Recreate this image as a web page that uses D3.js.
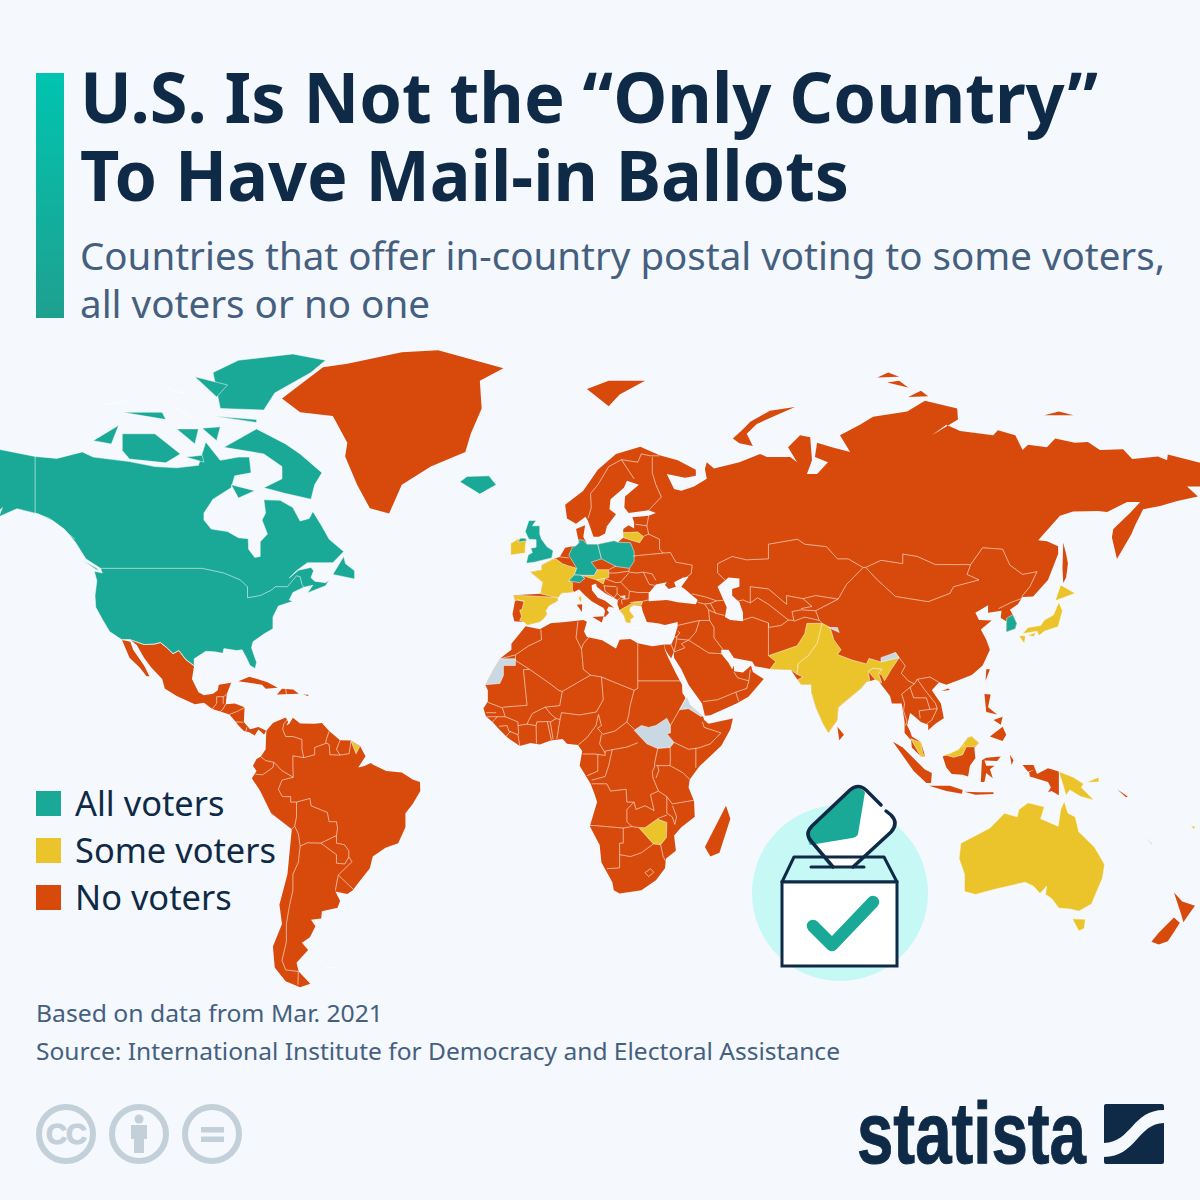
<!DOCTYPE html>
<html>
<head>
<meta charset="utf-8">
<title>Mail-in ballots</title>
<script src="https://cdnjs.cloudflare.com/ajax/libs/d3/7.8.5/d3.min.js"></script>
<style>
  html, body { margin: 0; padding: 0; background: #f5f8fc; }
  svg { display: block; }
</style>
</head>
<body>
<svg id="chart" width="1200" height="1200"></svg>
<script>
// legend
var categories = ["All voters", "Some voters", "No voters"];

// every shape below is [name, ring, ring...], a ring is "lon,lat lon,lat ..."
var allVoters = [
  ["Canada and USA",
   "-168,65.5 -166,68.3 -156.5,71.3 -141,69.6 -135,69.3 -128,70.3 -125,69.5 -115,68.8 -108,68 -102,67.8 -96,68.2 -94,71.8 -90,69 -85,69.5 -82,69.5 -81.5,67 -86,66.5 -87,64.5 -92,62.5 -94.5,60 -94.5,58.7 -92.5,57 -88,56.5 -85,55.3 -82.3,55.1 -82.2,53 -80.5,51.3 -79,51.5 -79,54.5 -77,56 -78.5,58.7 -77.5,60 -78,62.4 -73.5,62.3 -70,61 -68,58.5 -65.5,59 -64.5,60.3 -62,57.5 -60,55 -56,52.5 -59,50.2 -66,50.2 -69,48.5 -71,46.9 -68.5,48.6 -65,49.2 -64.3,48.5 -65,47 -64,46.2 -61,45.9 -60,46.5 -61,45.2 -66,43.6 -64.5,45.3 -67,44.9 -70,43.7 -71,42 -70,41.7 -74,40.6 -75.5,38 -75.5,35.2 -78,33.9 -81,32 -81.4,30.5 -80,26.8 -80.4,25.2 -81.8,26 -82.8,28 -84,30 -85.5,29.8 -89,30.3 -89.3,29.1 -91.5,29.5 -94,29.6 -97.2,27.7 -97.2,25.9 -99.5,27.5 -101.4,29.8 -103,29 -104.7,30.5 -106.5,31.8 -108.2,31.4 -111,31.3 -114.8,32.5 -117.1,32.5 -120.5,34.5 -122.5,37.5 -124.3,40.3 -124.5,43 -124,46.3 -124.7,48.4 -122.5,48 -123,49 -127,51 -130,54.5 -133,57 -136,58.5 -140,59.8 -146,60.8 -151,59.3 -150,61 -154,58.5 -158,56.5 -164,54.7 -160,58.7 -165,60.5 -161,64 -166,64.5"],
  ["Baffin", "-80,73.7 -72,71.5 -68,70 -62,67 -64,65 -65,62.5 -72,63.5 -78,64.5 -73,66 -73,68 -78,70 -89,71 -89,73.5"],
  ["Victoria", "-117,73 -108,73 -101,70 -105,68.6 -115,69.2 -117,70.5 -119,71.5"],
  ["Banks", "-125,72 -120,71.5 -118,74.2 -124,74.3"],
  ["Ellesmere", "-90,76.5 -78,76.3 -75,78.5 -65,81 -61,82.4 -70,83.1 -85,82.4 -92,81 -87,79"],
  ["Devon", "-92,75.5 -80,75 -80,74.6 -92,74.6"],
  ["Axel Heiberg", "-97,80.5 -88,79.5 -91,78 -95,79"],
  ["Melville", "-117,76 -106,76 -105,75 -117,74.5"],
  ["Bathurst", "-102,76.5 -97,75 -101,75"],
  ["Somerset", "-95,73.8 -90,74 -91,72 -95,72"],
  ["Prince of Wales", "-102,73.7 -96,73.7 -97,71.5 -101,71.5"],
  ["King William", "-99.5,69.5 -95,69.8 -94.5,68.7 -98,68.5"],
  ["Southampton", "-87,65 -80.5,64 -85,62.7 -87,64"],
  ["Coats", "-83,62.9 -80.5,62.9 -82,62.2"],
  ["Ringnes", "-105,79 -100,78.5 -104,78"],
  ["Prince Patrick", "-122,77 -116,77.5 -115,76.3"],
  ["Newfoundland", "-59,47.7 -56,51.5 -55.5,50 -53,48.5 -53,46.7 -56,46.9"],
  ["Vancouver Island", "-128,50.7 -124,49 -123.5,48.4 -125.5,49"],
  ["Iceland", "-24,65.5 -22,66.4 -16,66.5 -14,65 -18.5,63.4 -22.5,63.9"],
  ["United Kingdom", "-5.7,50.1 -3.5,50.3 1.3,51.2 1.7,52.7 0,53.5 -1.5,55 -2,56 -2,57.6 -4,57.6 -3,58.6 -5,58.6 -6,56.5 -5,55 -3,54.9 -3,53.4 -4.5,53.2 -4,52.3 -5.2,51.8 -3,51.4"],
  ["Northern Ireland", "-5.5,54.7 -6,55.2 -7.3,55.2 -8,54.4 -6.3,54.1"],
  ["Germany", "6,51.8 7,53.4 8,53.7 8.8,54.3 8.7,54.9 10,54.8 11,54 14,54 14.7,52 15,51 12.2,50.3 13.8,48.7 13,47.5 9.5,47.5 7.5,47.6 8.2,49 6,49.5"],
  ["Poland", "14,54 18.5,54.7 19.5,54.4 23,54.3 24,52.5 24,50.5 22.7,49 19,49.4 15,51 14.7,52"],
  ["Switzerland", "6,46.3 7.5,47.6 9.5,47.5 10.4,46.8 9,45.9 7,45.9"],
  ["South Korea", "126.6,37.7 128.3,38.6 129.4,36.5 129,35.2 126.5,34.4 126.5,37"]
];

var someVoters = [
  ["French Guiana", "-54,5.8 -51.6,4.3 -52.6,2.3 -54.5,2.3"],
  ["Ireland", "-6,52.2 -6,53.5 -5.7,54.6 -6,55.2 -7.3,55.3 -10,54.2 -10,51.8 -8.5,51.6"],
  ["France", "-1.8,43.4 -1.2,46 -4.6,48.2 -1.5,48.7 -1.5,49.7 1.5,50.9 2.5,51 4.2,50 6,49.5 8.2,49 7.5,47.6 6,46.3 7,45.9 7,44.2 7.5,43.8 4,43.5 3,42.5 0.7,42.7"],
  ["Corsica", "8.6,42.5 9.4,43 9.5,42 9.2,41.4 8.7,41.8"],
  ["Spain", "-9.3,43.1 -8.8,41.8 -8.2,42 -6.3,41.7 -6.9,39.8 -7.5,39.6 -7,38.2 -7.5,37.2 -6.3,36.8 -5.4,36.1 -2,36.8 -0.8,37.7 0,38.7 -0.3,39.5 0.5,40.6 3,41.8 3,42.5 0.7,42.7 -1.8,43.4"],
  ["Balearics", "2.4,39.6 3.3,39.9 3.2,39.3"],
  ["Austria", "9.5,47.5 13,47.5 13.8,48.7 17,48.7 17,47 16,46.8 13.7,46.5 10.4,46.8"],
  ["Slovenia", "13.7,46.5 16,46.8 15.5,45.6 13.6,45.5"],
  ["Lithuania", "21,55.3 21,56.3 25,56.4 26.6,55.5 25.5,54.3 23.5,54"],
  ["Greece", "20,39.6 21.2,38.3 21.7,36.8 23,36.5 23,37.5 24,38 22.7,39.5 23,40.4 24,40.8 26,40.8 26.3,41.6 24,41.5 21,40.9"],
  ["Crete", "23.6,35.5 26.3,35.2 24.8,34.9"],
  ["Zimbabwe", "25.3,-17.9 27,-17.9 30.4,-15.6 33,-16.5 32.9,-20.5 31.3,-22.4 29.3,-22.2 27,-20.5"],
  ["Pakistan", "61,28.5 63,27 61.4,25 67.2,24.8 68.9,23.7 69.2,26.5 72,28.5 74.4,31.6 75.5,34 75.8,36.5 71.6,36.5 71,34 68.9,31 66,29"],
  ["India", "75.8,36.5 78,35.5 79,32.5 81,30 80,28.8 84,27.4 88,26.4 88.7,27.8 92,26.9 96,29.3 97,28 94.5,24.5 93,22 92.2,23.5 91.3,24 92.3,25 89.8,25.3 88.5,24.5 88.9,22 88,21.7 86.5,20 80.3,15 80,11.5 77.5,8 76,10.5 74,15 72.8,19 72.7,21 70,21 69,22.3 70.5,23 68.9,23.7 69.2,26.5 72,28.5 74.4,31.6 75.5,34"],
  ["Bangladesh", "88.5,24.5 89.8,25.3 92.3,25 91.3,24 92.2,21.5 90.5,22.2 88.9,22"],
  ["Peninsular Malaysia", "100.2,6.4 101.8,5.8 103,5.5 103.5,2.5 104.2,1.4 103,1.5 100.5,4"],
  ["East Malaysia", "109.6,2 111.3,2.5 113.5,3.5 116,6.8 117,7 119,5.2 117.6,4.2 115.5,4.2 114.5,2 112,1.3 109.6,1.2"],
  ["Hokkaido", "140,41.8 141.5,45.4 145.5,43.5 143,42"],
  ["Honshu", "141,41.5 142,39.5 140.8,35.7 137,34.6 135.5,33.5 135,34.6 131,34 132.5,35.5 136,36 137,37.3 139.5,38.5 140,40.5"],
  ["Shikoku", "132.3,33.5 134.5,34.3 134.3,33.3 133,32.8"],
  ["Kyushu", "130,33.5 131.8,33.5 131.5,31.5 130.3,31.3"],
  ["Papua New Guinea", "141,-2.6 145,-4.2 147.8,-6 147.2,-7 150.7,-10.5 147,-9.5 144,-7.7 143,-9.2 141,-9.1"],
  ["New Britain", "148.5,-5.6 152,-4.2 152,-5.5 149,-6.2"],
  ["Australia", "114,-22 113.5,-26 115,-30 115,-34.3 118,-35 124,-33.6 131.7,-32 134,-33 135.8,-34.8 137.6,-33 137.3,-35 139,-36 141,-38.3 144,-38.5 146.5,-39 150,-37.3 153,-31 153.6,-27.5 150.8,-23 146.5,-19 145.5,-15 143.5,-14 142.5,-10.8 141.5,-13 140.8,-17.5 136,-15.5 137,-12.3 132.5,-11.2 130,-13 129.5,-15 126,-14 122,-18 119,-20"],
  ["Tasmania", "144.7,-40.8 148.3,-40.9 148,-43 146.5,-43.6 145.3,-42.5"],
  ["Fiji", "177.3,-17.4 178.6,-17.6 178.2,-18.3 177.3,-18.1"]
];

var noVoters = [
  ["Greenland", "-73,77.8 -68,76 -59,75.5 -55,71.7 -55.6,69.6 -53.7,67 -52.3,65 -48.8,60.9 -43.5,59.9 -40,65 -32,68 -22.5,70.3 -21,73 -18,76.5 -18.5,80 -12,81.5 -30,83.5 -40,83.3 -55,82 -61.7,81.6 -66,80.4"],
  ["Baja California", "-117.1,32.5 -114.8,32 -114,30 -111,26 -109.5,23.2 -110.3,23.2 -112.2,25.5 -115,28 -116,30.5"],
  ["Mexico and Central America", "-114.8,32.5 -113,31.2 -111,28 -109,25.5 -106,22.5 -105.3,20 -102,18 -97,15.8 -94.5,16.2 -92.2,14.5 -90,13.8 -87.5,13 -85.7,11 -85,10 -83.5,8.5 -82,8.2 -80.5,7.3 -79.5,8.9 -77.9,7.5 -77.3,8.6 -79.5,9.6 -81.8,9 -83.5,11 -83.3,15 -86,16 -88.5,15.8 -88.2,18.5 -87,21.5 -90.4,21 -90.7,19.5 -92,18.6 -94.5,18.2 -96,19 -97.8,22.5 -97.2,25.9 -99.5,27.5 -101.4,29.8 -103,29 -104.7,30.5 -106.5,31.8 -108.2,31.4 -111,31.3"],
  ["Cuba", "-85,21.9 -82,23.1 -77,21.6 -74.2,20.2 -77.5,19.9 -78.5,21 -82,22.1"],
  ["Hispaniola", "-74.4,18.4 -73,19.9 -69.9,19.7 -68.4,18.6 -71.5,17.8"],
  ["Jamaica", "-78.3,18.4 -76.3,18.2 -77,17.8"],
  ["Puerto Rico", "-67.2,18.4 -65.7,18.3 -65.8,18 -67,18"],
  ["South America", "-77.3,8.6 -75.5,10.7 -72,12.2 -71.3,11 -71.8,10 -71,10.5 -70,12.1 -68,10.6 -64,10.5 -62,10.7 -60,8.5 -57,6 -54,5.9 -51.5,4.4 -50,1.6 -51,0 -52,-1.5 -50.5,-1.2 -48.5,-0.3 -48,-0.7 -44.3,-2.5 -40,-2.9 -37,-4.8 -35,-5.5 -34.9,-8 -37,-11.5 -39,-14 -39,-17.8 -41,-22 -44.5,-23.2 -48,-25.5 -48.8,-28.5 -52,-32.2 -53.5,-34 -55,-34.9 -58.3,-34.3 -57,-36.5 -57.7,-38.2 -62,-39 -62.2,-40.7 -65,-41 -63.8,-42.5 -65.3,-45 -67.5,-46.2 -65.8,-47.8 -69,-50.5 -68.4,-52.3 -65.2,-54.8 -68,-55.5 -72,-54.3 -75,-51.5 -75.5,-47 -73,-42 -73.7,-37.5 -71.5,-30 -70.3,-18.3 -76,-14 -79,-8 -81.3,-4.5 -80,-2.5 -81,-1 -80,0.8 -78.8,1.5 -77.5,3.5 -77.4,6.5 -77.9,7.3"],
  ["Africa", "-5.9,35.8 -2,35.1 1,36.5 5,36.8 10,37.3 11,36.9 10.2,34.5 11,33.2 15.2,32.4 19,30.3 20,32.5 23,32.7 25,31.6 29,30.9 32.3,31.3 32.5,29.9 33.5,27.8 35.5,24 37.2,21 37.3,18.8 39.5,15.5 43,12.5 43.3,11.5 44.5,10.5 51.2,11.9 50.5,9 48,4.5 42,-1.2 39.3,-4.8 39,-7 40.5,-10.7 40.7,-15 37,-17.8 35,-20 35.5,-24 32.8,-26 32.5,-28.5 30,-31.5 26,-34 20,-34.8 18.4,-34 18,-32 15,-27 14.5,-22.5 11.8,-17.5 13.8,-11 13,-8.5 12,-6 9,-1 9.7,3 8.5,4.7 5.5,5 4.3,6.3 1,5.9 -2,4.8 -4.5,5.2 -7.5,4.4 -11,6.8 -13.2,9 -15,11 -16.8,12.5 -17.5,14.7 -16.3,16.5 -16.3,19.5 -17,21 -14.7,25 -13,27.7 -9.8,30 -9.8,31.5 -6.8,34"],
  ["Madagascar", "49.3,-12 50.5,-15.5 47.5,-24.5 45,-25.5 43.5,-23 44.5,-16.3"],
  // Eurasia, second and third ring are the Black Sea and the Caspian
  ["Eurasia",
   "-9,37 -9.5,38.7 -8.8,41.8 -9.3,43.1 -1.8,43.4 -1.2,46 -4.6,48.2 -1.5,48.7 -1.5,49.7 1.5,50.9 3.5,51.4 5,53.3 8,53.7 8.8,54.3 8,57 10.5,57.7 10,55.5 11,54 14,54 18.5,54.7 19.5,54.4 21,55.3 21,57 22.5,57.7 24,57.1 24,58.3 23.5,59.2 28,59.5 30,60 28,60.5 22.5,60 21.3,61 21.5,63 25.3,65 22,65.7 21.2,64.5 17.5,62.5 17.2,60.7 19,59.8 16.5,57.5 16,56.1 14.3,55.5 12.8,55.5 11.3,58.5 10.6,59.3 8,58 5.5,59 5,61.5 10,64 14,67.5 19,70 25.7,71.1 31,69.8 36,69 41,67.5 41,66.5 38,66.2 33,66.8 35,64.3 37,64 40.5,64.7 44,66 43.5,67.6 44,68.7 46,67.7 53,68.7 58.7,70 60.6,69.5 67,69.5 68.9,68.7 66.4,71 69.7,72.8 72.5,72.5 73,69 71.6,66.8 74.4,66.8 77.4,68.7 73.8,69.5 74.4,71.7 78.5,71 83.5,70.3 80.7,72.8 86.2,74.3 89.8,75.4 99.2,76.1 104.1,77.5 113,76.5 113.2,75 106,72.8 110,74.3 113.8,73.4 122.9,72.8 124.2,73.5 129,72.8 131,70.6 132.5,71.4 137.7,71 140,72.3 145.4,71.7 149,71.8 152.3,70.6 158.7,70.7 161.2,69.2 168.3,69.6 170.8,69 171,69.9 180,68.6 180,64.7 176.3,64.7 179.3,63 173.6,62.2 168.9,61.3 164.2,60.7 163.4,59.6 162,57.7 161,56 157,51 155.6,55.4 156,57 160.6,60 163.4,62 159.8,62 154.3,60.2 151.8,60.4 144.9,60.3 141.3,59.5 135.3,54.8 137.7,54.6 140.8,53.6 140.8,52 138,46.5 133.9,42.8 131,42.7 129.7,41 127.5,39.7 128.3,38.6 129.4,36.5 129,35.2 126.5,34.4 126.5,37 125,37.8 125.2,39.5 121.5,39 121.5,40.8 118,39 119,37.3 122.5,37.2 119.5,35 121,32.5 122,30 120,26 117,23.5 113.5,22.2 110,21 108,21.6 106,19.5 108.5,16 109.3,12 107,10.5 105,8.7 105,10.2 103,11 101,12.7 100,13.4 99.2,10 100,8.5 100.5,7 103,5.5 104.2,1.4 103,1.5 100.5,4 100.3,6 98.5,8 98.5,11 97.7,16 95,16 94.5,18 92.3,20.7 91,22.5 88,21.7 86.5,20 80.3,15 80,11.5 77.5,8 76,10.5 74,15 72.8,19 72.7,21 70,21 69,22.3 67.2,24.8 61.5,25.1 57.3,25.8 56.5,27 51.5,27.9 50,30 48,30 48,29 50,26.7 51,25 51.5,26 51.5,24.5 54,24.2 56.2,26 56.7,24.3 59.7,22.5 55.5,17.8 52.2,16 45,12.8 43.5,12.7 42.7,16 39,21 37,25 35,28 34.9,29.5 34.2,27.8 32.7,29.8 32.3,31.3 34.2,31.3 35,32.8 36,35.8 36,36.8 32.5,36.1 30.5,36.5 27.5,36.8 26.3,39.5 26.2,40 26,40.6 24,40.8 23,40.4 22.7,39.5 24,38 23,37.5 23,36.5 21.7,36.8 21.2,38.3 20,39.6 19.4,41 19.5,42 16,43.5 13.7,45 13.5,45.7 12.3,45.3 12.4,44.2 14,42.5 16,41.8 18.5,40.2 17,40.5 16.5,39.7 17.1,39 16,38 15.7,38.2 16,39.5 15.5,40.2 14.2,40.8 12.3,41.7 10.5,43 8.8,44.4 7.5,43.8 4,43.5 3,42.5 3,41.8 0.5,40.6 -0.3,39.5 0,38.7 -0.8,37.7 -2,36.8 -5.4,36.1 -6.3,36.8 -7.5,37.2",
   "28,41.7 28,43.5 30,45.5 33,46 32.5,45.4 33.5,44.5 35.5,45 35,46 37.5,47 39,47.2 37,45 38,44.4 41.5,42 41,41 36,41.5 33,42 29,41.2",
   "47,45 50,47 53,46.8 53,45 51,44.5 51,43 53,41.5 54,39 54,37 50.5,37.3 49,38 49.5,40.3 47.5,43"],
  ["Nepal", "80,28.8 81,30 84,28.5 88.2,27.9 88,26.4 84,27.4"],
  ["Sardinia", "8.2,40.9 9.7,41 9.6,39.2 8.5,39"],
  ["Sicily", "12.5,38 15.6,38.2 15.1,36.7 12.5,37.6"],
  ["Cyprus", "32.3,35 34.5,35.6 33,34.6"],
  ["Svalbard", "11,79 17,80 27,80 20,78.3 17,76.8 14,78"],
  ["Novaya Zemlya", "68.3,76.7 61.4,76.2 56,74.7 53.7,73.5 51.2,72.3 53,71.6 56.7,71.2 55,73 57.8,74.4 63.4,75.9"],
  ["Franz Josef Land West", "45,80.3 51,80.8 50,80.1"],
  ["Franz Josef Land East", "55,80.6 65,81.1 60,80.4"],
  ["October Revolution", "91,80.4 94,81 97,80.5 94,80"],
  ["Bolshevik", "93.7,79.8 97,80 99.5,79.2 96,79"],
  ["Cape Chelyuskin Island", "99.5,78 103,78.8 105,78.1 101,77.7"],
  ["Kotelny", "137,75.6 141,76.1 145,75.6 141,75"],
  ["Lyakhovsky", "140,73.8 143,73.8 142,73.3"],
  ["New Siberia", "146,75.2 150,75.1 147,74.8"],
  ["Wrangel", "178.5,71.5 180,71.2 179,70.8"],
  ["Sakhalin", "142.2,54.3 143,52 143.5,50 143,47 142.2,45.8 142,49 142,53"],
  ["Taiwan", "121,25 122,25 120.8,22 120.1,23"],
  ["Hainan", "108.7,19.3 110.5,20 111,19.6 109.5,18.2"],
  ["Sri Lanka", "80,9.7 81.8,7.5 80.5,6 79.8,7.5"],
  ["Luzon", "120.5,18.5 122.2,18.4 121.5,15 124,13 121,13.7 120,16"],
  ["Mindanao", "122,7 125.5,9.7 126.5,7.5 125.5,5.8 124,7"],
  ["Visayas", "123,11.5 125.5,12.4 125,10.2 123,9.5"],
  ["Palawan", "117.5,8.5 119.5,11 119,10"],
  ["Borneo", "109,1.5 111.5,2.5 113.5,3.5 116,6.8 117,7 119,5.2 117.7,4 118,1 116.5,-1 116,-4 114.5,-3.5 111.5,-3.3 110,-1.5 109,0.3"],
  ["Sumatra", "95.3,5.6 98,4 104,-2 106,-3 105.8,-5.8 104.5,-5.8 101,-2.5 98.5,1.5"],
  ["Java", "105.2,-6.5 108.5,-6.5 111,-6.5 114.5,-7.7 114.3,-8.7 110,-8 106.5,-7.4"],
  ["Sulawesi", "119.8,0.5 121,1.2 125,1.5 124,0.3 120.5,0.4 121,-1 123.3,-1 122,-2 122.8,-4.5 121,-3 120.5,-5.5 119.5,-5.5 119,-3"],
  ["Lesser Sunda", "115,-8.2 119,-8.3 123,-8.3 123,-8.8 118,-9 115,-8.8"],
  ["Timor", "124,-10 127,-8.4 125,-9.6"],
  ["Halmahera", "127.5,2 128.5,0.5 128,-0.8 127.7,0.5"],
  ["Seram", "128,-3 130.5,-3.2 129,-3.5"],
  ["Western New Guinea", "131,-0.8 134,-0.8 135,-3.3 138,-1.7 141,-2.6 141,-9.1 139,-8 138,-8.3 138.8,-7 138,-5.5 133,-4 132.8,-2.8 134,-2.2 132.5,-2.7 131,-1.3"],
  ["Solomon Islands", "157,-7.5 160,-9.5 159.5,-9.7 156.8,-8"],
  ["North Island", "172.7,-34.5 175,-36.7 178.5,-37.7 177,-39.5 175.3,-41.6 174.7,-39.8 174.8,-37.5"],
  ["South Island", "172.7,-40.5 174.3,-41.7 172.8,-43.7 171,-45.9 168.5,-46.6 166.5,-46 168.5,-44 171,-42"]
];

var noData = [
  ["Western Sahara", "-13,27.7 -8.7,27.7 -8.7,26 -12,26 -12,23.4 -13,21.3 -17,21 -14.7,25"],
  ["South Sudan", "24,8.7 26,10 28,9.5 30,10 33,12 34,10 34,8 33,7.8 35,5.4 33.9,4 30.5,3.7 27.5,5 25,5.3"],
  ["Eritrea", "38.6,18 39.5,15.5 43,12.6 42.4,12.5 39,14.6 36.5,14.3 37,17"],
  ["Kosovo", "20.2,42.8 21.5,43 21.5,42.2 20.5,42.1"],
  ["Aksai Chin", "77.5,35.5 80,35.5 80.5,34.3 78.5,34.3"],
  ["Arunachal Pradesh", "92,26.9 92,28 96,29.3 97,28 96,27.5"],
  ["Falkland Islands", "-61,-51.5 -58,-51.5 -59,-52.3"],
  ["New Caledonia", "164,-20 167,-22.2 166.5,-22.3 164,-20.4"]
];

// country borders inside the land shapes, each line is "lon,lat lon,lat ..."
var borderLines = [
  // North and Central America
  "-123,49 -95,49 -89,48 -84.5,46.5 -82.5,45 -82.5,42.5 -79,43 -76,44.2 -74.8,45 -71.5,45 -69,47.4 -68,47.2 -67.5,45.5 -67,44.9",
  "-141,69.6 -141,60 -137,59 -130,55",
  "-97.2,25.9 -99.5,27.5 -101.4,29.8 -103,29 -104.7,30.5 -106.5,31.8 -108.2,31.4 -111,31.3 -114.8,32.5 -117.1,32.5",
  "-92.2,14.5 -91,16 -91,17.8 -89,17.8 -88.3,18.5", "-89.2,17.8 -89.2,15.9", "-90,13.8 -89.3,14.4 -88.5,15.8", "-87.5,13 -85,14 -83.2,15", "-85.7,11 -83.7,10.9", "-83,8.3 -82.7,9.5", "-77.9,7.3 -77.3,8.6", "-72,19.9 -71.7,18",
  // South America
  "-71.3,11.8 -72.5,10.5 -72.8,9 -72,7 -70,7 -67.5,6.2 -67.5,3.5 -67,1.2 -70,1.7 -70,-1 -69.9,-4.2 -73,-2.4 -75.2,-0.1 -77.5,0.4 -78.8,1.4",
  "-75.2,-0.1 -75.5,-1.5 -78.3,-3.5 -80.3,-3.4", "-69.9,-4.2 -73,-5 -74,-7.5 -72.9,-9.5 -70.6,-9.5 -70.6,-11 -69,-11 -69,-15 -69.5,-17.5 -70.3,-18.3",
  "-69.5,-17.5 -68.5,-19.5 -68,-22.8 -68.5,-27 -70,-30 -70,-34 -71,-38 -71.8,-42 -71.8,-46 -73,-50 -72,-52 -68.5,-52.3 -68.6,-55",
  "-69,-11 -65.3,-10 -65,-12 -60.5,-13.8 -60,-16.3 -58,-16.3 -57.7,-18 -58,-20 -62.3,-22 -66,-21.9 -68,-22.8", "-62.3,-22 -58,-25 -58,-27.2 -55.7,-27.4 -54.6,-25.6 -54.6,-24 -55.8,-22.4 -58,-22 -58,-20",
  "-54.6,-25.6 -53.7,-26.8 -57.5,-30.2 -58.3,-34", "-57.5,-30.2 -53.4,-33.7", "-60,8.5 -61,5.5 -60.7,5.2 -64,4 -64,2 -67,1.2", "-60.7,5.2 -60,4.8 -59.8,2 -57,1.9 -54.5,2.3 -54,5.8", "-57,6 -58,3.5 -57,1.9",
  // Africa
  "-1.7,35 -1.5,32.5 -5,31 -8.7,28.7 -8.7,27.3 -4.8,25 1.2,21 3.2,19.5 4.2,19.2 3.5,15.4 -0.5,15 -4,13.3 -5,11.5 -5.5,10.4 -8,10 -8,11 -11.5,12.4 -12.3,14.8 -16.3,16.3",
  "-8.7,28.7 -13,27.7", "-4.8,25 -6.5,24.9 -5.5,15.5 -12,15 -12.3,14.8", "-11.5,12.4 -16.7,12.4", "-16.7,13.5 -14,13.5", "-13.7,12.4 -15,11", "-8,10 -7.8,8 -8,7.5 -10.5,8.5 -11,10 -13.2,9.8", "-11.4,6.9 -10,8.5", "-8,7.5 -7.5,4.4",
  "-5.5,10.4 -3,10 -2.8,11 0,11.1 1,11 2.5,11.9 1,13.2 -0.5,15", "-3,10 -2.9,5.1", "0.1,11 1.2,6.1", "0.9,11 1.7,6.2", "2.7,6.4 3.6,11.7 2.5,11.9", "3.6,11.7 4,13.5 9,12.9 13.6,13.7", "8.6,4.7 11,6.7 13.5,10 14.1,12.7 14.2,13 15,10 13.9,9.3 15.4,7.6 18.7,8.5 22,11",
  "4.2,19.2 12,23.5 15,23 15.5,17 13.6,13.7", "8.5,36.9 8,33 9.5,30.2 10,25 12,23.5", "11.5,33.1 10,31.5 9.5,30.2", "15,23 24,19.5 25,20 25,31.6", "25,22 36.9,22", "24,19.5 22.9,15.5 22.5,12.8 22,11 24,9",
  "38.6,18 36.5,14.3 34,10", "35,5.4 39,3.5 41.9,3.9 45,5 47.9,8 43.3,9.5 42.8,11", "41,3.9 41,-1.6", "33.9,4 34,1 33.9,-1 37.5,-3 39.2,-4.7", "30.5,3.7 29.7,0 29.6,-1.4 29,-2.7 29.2,-4.4 30.7,-8 33,-9.5 34.5,-11.5 40.5,-10.5", "30,-1 33.9,-1", "30.5,-1 30.8,-2.4 30,-4.4",
  "33,-9.5 33,-14 34.5,-15 35.2,-17 35.7,-15 34.6,-12", "33,-14.5 30.4,-15.5", "12.3,-6 16.5,-6 17.5,-8 21.8,-7.5 22,-11 24,-11 24.5,-13 27,-12 29.5,-13.3 28.5,-9 30.7,-8", "24,-11 22,-13 22,-16.3 23.4,-17.6 25.3,-17.9", "11.8,-17.3 14,-17.4 21,-18 23.4,-17.6",
  "21,-18 21,-22 20,-22 20,-28.4 16.5,-28.6", "20,-25 23,-25.5 26,-24.5 29.3,-22.2", "31.3,-22.4 32,-25.5 32.8,-26.8", "27,-29.6 28.5,-28.6 29.4,-29.5 28,-30.6 27,-29.6",
  "12.3,-5 16,-4 17,-1 18,3.5", "11,-3.8 14,-2.5 14,2.2", "9.8,2.2 13.2,2.2 16,1.8 16,3", "15,7.6 14.5,5 16,2.5", "16,3 18.6,3.5 22,4.1 25,5.3",
  // Europe
  "11.3,59 12.2,61 12,63.5 14,65 17,68 20.5,69.1 25,68.7 26,70 28.5,69.7 31,69.7", "20.5,69.1 24,66", "29,69.5 29,67 30,65 31.5,62.9 28,60.5", "28,59.5 27.5,57.6 28,56 31,55 31,53 32,52.2 34,52.3 35.5,50.3 40,49.7 39.7,47.8 38.2,47", "24.4,57.9 27.5,57.6", "28,56 26.6,55.6",
  "23.7,51.6 32,52.2", "22.7,49 22.5,48.2 24.8,48 26.5,48.2 29,47.8 30,46.4", "26.5,48.2 28.2,45.5 29.7,45.3", "22.7,44 25,43.7 28.5,43.7", "22.7,44 20.3,46 22.5,48", "16.9,48 19,48 22.5,48.4", "17,48.7 19,49.5", "16.2,46.7 19,45.9 20.3,46",
  "15.5,45.2 19,45", "15.8,45.2 16,44 18.5,42.5 19.3,43.5 19.3,45", "22.7,44 22.5,42.3 20.5,42.1", "19.3,43.5 20.3,42.8", "19.4,41.9 20.3,42.6", "20.5,42 20.7,41", "22.9,41.4 26.3,41.7 28,42", "3.5,51.4 6,51.2", "-8.2,42 -6.3,41.7", "9.5,47.5 10.4,46.8",
  // Asia
  "49,46.5 47,48 47,50 51,51.5 55,50.8 61,51 61,54 69,55 71,54 77,53.5 80,51 83,51 87,49.2 87.8,49.2 92,50.7 98,50 98,52 102,51.5 107,49.8 113,49.8 116.7,49.8 120,53.3 125.5,53 127.5,49.7 131,47.7 135,48.3 133,45 131,43 130.7,42.3",
  "87.8,49.2 91,46.5 96,42.8 105,41.6 111,43.5 112,45 119,46.5 115.7,47.7 116.7,49.8", "87,49.1 82.5,45.5 80.2,42.2 74,43 70.5,42.3 66,43 66,41 61,44.5 56,45 56,41.3 54,42 52.5,41.7", "80.2,42.2 74,39.5 70,39.7", "70,40 73,40.5 70.5,42.3", "56,41.3 58,42.5 61,41 66.5,37.3 68,37.2 67.5,39.3 70,39.7", "54,37.3 56.5,38 61,36.6 61,35.5 64.5,36 66.5,37.3",
  "68,37 71,38 75,37.2 74,39.5", "75.8,36.5 75,37.2", "61,36.6 61,31 61,28.5", "97,28 98.7,25.9 97.6,24 99.5,22 101.2,21.2 102,22.4 105.5,23 108,21.6", "101.2,21.2 100,20.3 97.7,18.5 98.5,16 98.2,14 99.2,11 98.7,10", "100,20.3 101,17.5 104.5,17.5 105.5,14.4 102.5,14 102.8,12", "102,22.4 104,19.7 107,16 107.5,14.6 106,11.5 104.5,10.4", "105.5,14.4 107.5,14.6",
  "124.4,40 128,41.5 130.7,42.3", "36,36 42,37.2 44.8,37.2 44.5,39.7", "41.5,41.5 43.5,41 44.5,39.7", "40,43.4 44,42.6 46.7,41.8 48.6,41.9", "46.7,41.8 45,41.2 43.5,41.1", "45,41.2 46.5,38.9", "44.5,39.7 46.5,38.9 48.9,38.4", "44.8,37.2 46,35.5 46,33 48.5,30", "42,37.2 41,34.4 39,32.4 35.8,32.7", "36,34.6 36.6,34.2 35.8,33.3", "35.1,33.1 35.8,33.3 35.5,31.5 35,29.5", "39,32.4 37,31.5 38,30.5 35,29.4", "39,32.4 44.5,29.2 46.5,29.1 48,29", "43,16.5 47,17 52,19 52.8,16.6", "52,19 55,20 55.6,22 56,24.9", "51.5,24.3 52.5,22.8 55.6,22", "34.2,31.3 35,29.5",
  // Borneo
  "114.5,4 115,4.8"
];

var mapColor = d3.scaleOrdinal()
  .domain(categories.concat(["No data"]))
  .range(["#1aa897", "#ebc42b", "#d84a0b", "#c9d8e2"]);

var navy = "#0f2a47";
var slate = "#45607f";
var iconGrey = "#c3d0da";

var svg = d3.select("#chart");

var defs = svg.append("defs");
var barFill = defs.append("linearGradient").attr("id", "barFill")
  .attr("x1", 0).attr("y1", 0).attr("x2", 0).attr("y2", 1);
barFill.append("stop").attr("offset", "0%").attr("stop-color", "#00c4b0");
barFill.append("stop").attr("offset", "100%").attr("stop-color", "#1fa08f");

// title block
svg.append("rect").attr("x", 36).attr("y", 73).attr("width", 28).attr("height", 245).attr("fill", "url(#barFill)");

var titleLines = ["U.S. Is Not the \u201COnly Country\u201D", "To Have Mail-in Ballots"];
var subtitleLines = ["Countries that offer in-country postal voting to some voters,", "all voters or no one"];

svg.selectAll(".title").data(titleLines).enter().append("text")
  .attr("class", "title")
  .attr("x", 80)
  .attr("y", function(d, i) { return 123 + i * 78; })
  .attr("textLength", function(d, i) { return [1018, 769][i]; })
  .attr("lengthAdjust", "spacingAndGlyphs")
  .attr("font-family", "'Noto Sans', sans-serif")
  .attr("font-weight", 700)
  .attr("font-size", 70)
  .attr("fill", navy)
  .text(function(d) { return d; });

svg.selectAll(".subtitle").data(subtitleLines).enter().append("text")
  .attr("class", "subtitle")
  .attr("x", 80)
  .attr("y", function(d, i) { return 270 + i * 48; })
  .attr("textLength", function(d, i) { return [1085, 350][i]; })
  .attr("lengthAdjust", "spacingAndGlyphs")
  .attr("font-family", "'Noto Sans', sans-serif")
  .attr("font-size", 38)
  .attr("fill", slate)
  .text(function(d) { return d; });

// Miller projection, d3 core has no raw version of it
var millerScale = 208;
var millerX = 547;
var millerY = 762;
function project(lon, lat) {
  var phi = lat * Math.PI / 180;
  return [
    millerX + millerScale * lon * Math.PI / 180,
    millerY - millerScale * 1.25 * Math.log(Math.tan(Math.PI / 4 + 0.4 * phi))
  ];
}
var path = d3.geoPath(d3.geoTransform({
  point: function(lon, lat) {
    var p = project(lon, lat);
    this.stream.point(p[0], p[1]);
  }
}));

function parseLine(s) {
  return s.split(" ").map(function(p) { return p.split(",").map(Number); });
}
function toFeature(shape, category) {
  return {
    type: "Feature",
    properties: { name: shape[0], category: category },
    geometry: { type: "Polygon", coordinates: shape.slice(1).map(parseLine) }
  };
}

var features = noVoters.map(function(s) { return toFeature(s, "No voters"); })
  .concat(someVoters.map(function(s) { return toFeature(s, "Some voters"); }))
  .concat(allVoters.map(function(s) { return toFeature(s, "All voters"); }))
  .concat(noData.map(function(s) { return toFeature(s, "No data"); }));

var map = svg.append("g").attr("class", "map");

map.selectAll(".land").data(features).enter().append("path")
  .attr("class", "land")
  .attr("d", path)
  .attr("fill", function(d) { return mapColor(d.properties.category); })
  .attr("fill-rule", "evenodd")
  .attr("stroke", function(d) { return d.properties.category == "No voters" ? "none" : "#ffffff"; })
  .attr("stroke-width", 0.5)
  .attr("stroke-linejoin", "round");

map.selectAll(".border").data(borderLines).enter().append("path")
  .attr("class", "border")
  .attr("d", function(d) { return path({ type: "LineString", coordinates: parseLine(d) }); })
  .attr("fill", "none")
  .attr("stroke", "#ffffff")
  .attr("stroke-opacity", 0.8)
  .attr("stroke-width", 0.7)
  .attr("stroke-linejoin", "round");

// legend
var legendY = d3.scalePoint().domain(categories).range([791, 885]);

var legend = svg.selectAll(".legend").data(categories).enter().append("g")
  .attr("class", "legend")
  .attr("transform", function(d) { return "translate(36," + legendY(d) + ")"; });
legend.append("rect")
  .attr("width", 25).attr("height", 25)
  .attr("fill", function(d) { return mapColor(d); });
legend.append("text")
  .attr("x", 39).attr("y", 25)
  .attr("font-family", "'Noto Sans', sans-serif")
  .attr("font-size", 34.4)
  .attr("fill", navy)
  .text(function(d) { return d; });

// ballot box
var box = svg.append("g").attr("class", "ballot");
box.append("circle").attr("cx", 840).attr("cy", 893).attr("r", 88).attr("fill", "#c6f8f5");
box.append("path")
  .attr("d", "M833,867 L812,842 Q804,834 812,826 L850,790 Q858,783 866,790 L891,815 Q899,823 891,832 L853,867 Z")
  .attr("fill", "#ffffff");
box.append("path")
  .attr("d", "M865,792 L858,834 Q857,837 852,838 L810,845 Q804,836 812,826 L850,790 Q858,785 865,792 Z")
  .attr("fill", "#1aa897");
box.append("path")
  .attr("d", "M833,867 L812,842 Q804,834 812,826 L850,790 Q858,783 866,790 L881,805 M886,811 L891,815 Q899,823 891,832 L853,867")
  .attr("fill", "none").attr("stroke", navy).attr("stroke-width", 3.5).attr("stroke-linecap", "round");
box.append("path")
  .attr("d", "M782,882 L794,857 L884,857 L897,882 Z")
  .attr("fill", "#ffffff").attr("fill-opacity", 0).attr("stroke", navy).attr("stroke-width", 3).attr("stroke-linejoin", "round");
box.append("rect").attr("x", 782).attr("y", 882).attr("width", 115).attr("height", 84)
  .attr("fill", "#ffffff").attr("stroke", navy).attr("stroke-width", 3);
box.append("line").attr("x1", 811).attr("y1", 867).attr("x2", 864).attr("y2", 867)
  .attr("stroke", navy).attr("stroke-width", 3).attr("stroke-linecap", "round");
box.append("path")
  .attr("d", "M813,926 L832,945 L873,902")
  .attr("fill", "none").attr("stroke", "#1aa897").attr("stroke-width", 12.5)
  .attr("stroke-linecap", "round").attr("stroke-linejoin", "round");

// notes
var notes = ["Based on data from Mar. 2021", "Source: International Institute for Democracy and Electoral Assistance"];
svg.selectAll(".note").data(notes).enter().append("text")
  .attr("class", "note")
  .attr("x", 36)
  .attr("y", function(d, i) { return 1022 + i * 38; })
  .attr("textLength", function(d, i) { return [347, 804][i]; })
  .attr("lengthAdjust", "spacingAndGlyphs")
  .attr("font-family", "'Noto Sans', sans-serif")
  .attr("font-size", 24)
  .attr("fill", slate)
  .text(function(d) { return d; });

// licence icons
var iconX = [66, 139, 212];
svg.selectAll(".icon").data(iconX).enter().append("circle")
  .attr("class", "icon")
  .attr("cx", function(d) { return d; })
  .attr("cy", 1134).attr("r", 27)
  .attr("fill", "none").attr("stroke", iconGrey).attr("stroke-width", 6);
svg.append("text").attr("x", 66).attr("y", 1144).attr("text-anchor", "middle")
  .attr("font-family", "'Liberation Sans', sans-serif").attr("font-weight", 700).attr("font-size", 29)
  .attr("letter-spacing", -1).attr("fill", iconGrey).attr("stroke", iconGrey).attr("stroke-width", 1).text("CC");
svg.append("circle").attr("cx", 139).attr("cy", 1119).attr("r", 4.5).attr("fill", iconGrey);
svg.append("path").attr("d", "M131,1125 H147 V1139 H144 V1153 H134 V1139 H131 Z").attr("fill", iconGrey);
svg.append("rect").attr("x", 201).attr("y", 1127).attr("width", 23).attr("height", 5.5).attr("fill", iconGrey);
svg.append("rect").attr("x", 201).attr("y", 1136.5).attr("width", 23).attr("height", 5.5).attr("fill", iconGrey);

// logo
svg.append("text").attr("x", 857).attr("y", 1163)
  .attr("textLength", 229).attr("lengthAdjust", "spacingAndGlyphs")
  .attr("font-family", "'Liberation Sans Narrow', 'Liberation Sans', sans-serif")
  .attr("font-weight", 700).attr("font-size", 88).attr("fill", navy)
  .attr("stroke", navy).attr("stroke-width", 1).text("statista");
svg.append("rect").attr("x", 1104).attr("y", 1104).attr("width", 60).attr("height", 60).attr("rx", 2).attr("fill", navy);
svg.append("path")
  .attr("d", "M1104,1143 C1132,1142 1132,1110 1164,1110 L1164,1123 C1138,1123 1136,1157 1104,1157 Z")
  .attr("fill", "#f5f8fc");
</script>
</body>
</html>
